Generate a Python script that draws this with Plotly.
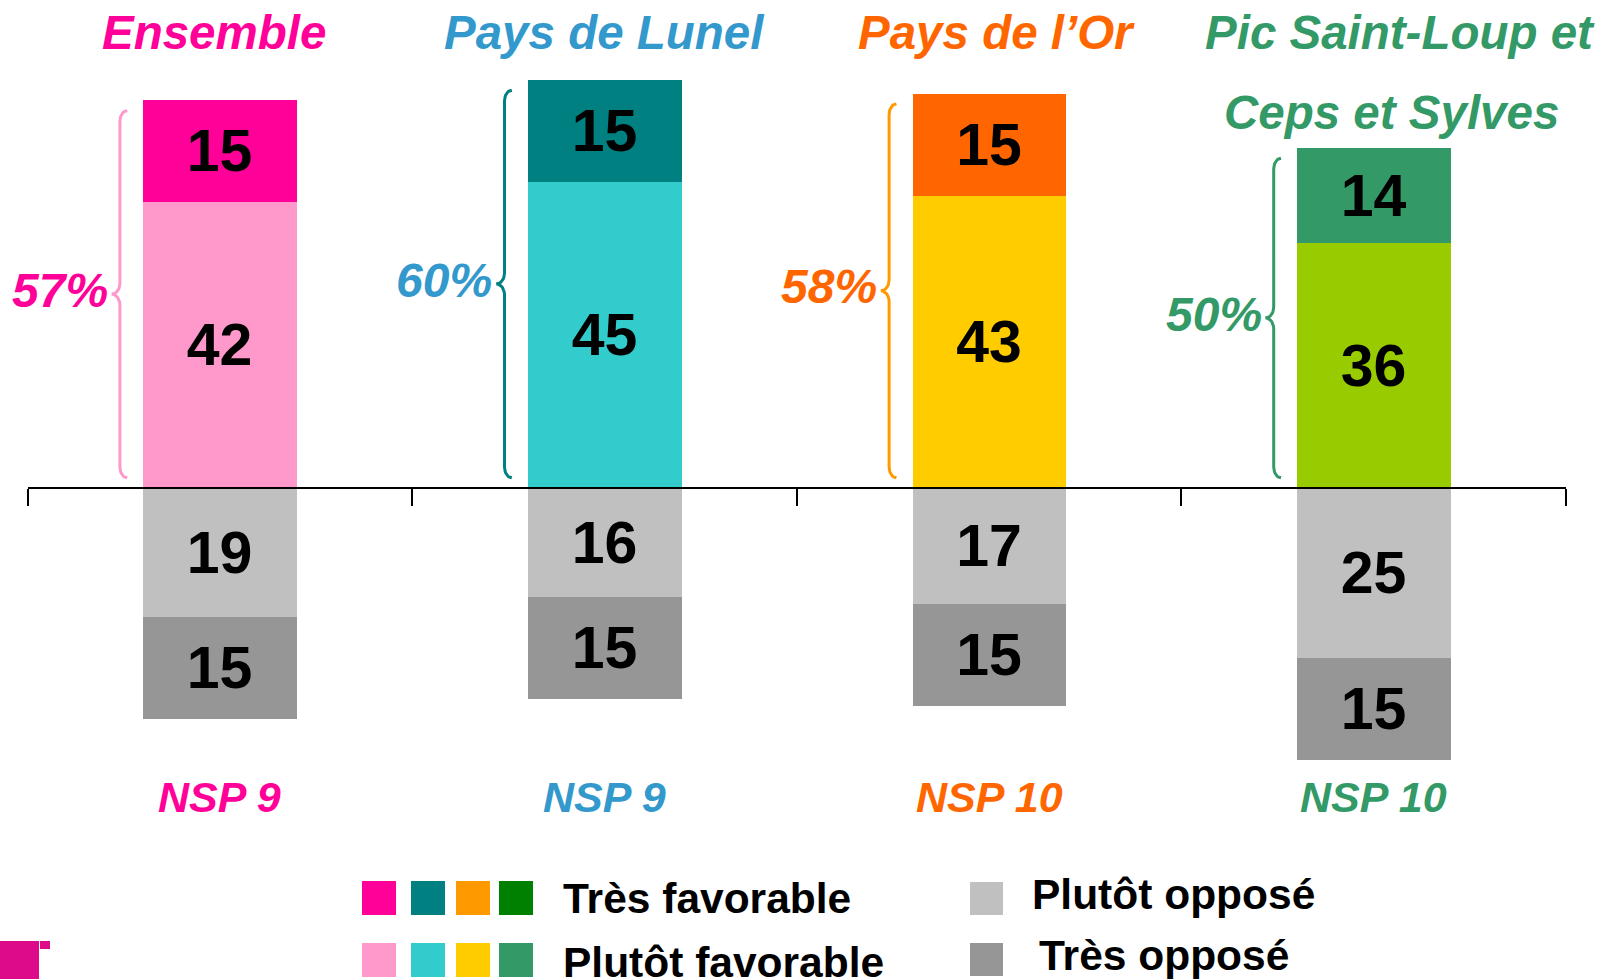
import numpy as np
import plotly.graph_objects as go

# Données
territoires = ["Ensemble", "Pays de Lunel", "Pays de l’Or", "Pic Saint-Loup et"]
sous_titre = ["", "", "", "Ceps et Sylves"]
tres_favorable = [15, 15, 15, 14]
plutot_favorable = [42, 45, 43, 36]
plutot_oppose = [19, 16, 17, 25]
tres_oppose = [15, 15, 15, 15]
nsp = [9, 9, 10, 10]

# Couleurs
col_tres_fav = ["#FF0099", "#008080", "#FF6600", "#339966"]
col_plutot_fav = ["#FF99CC", "#33CCCC", "#FFCC00", "#99CC00"]
col_titre = ["#FF0099", "#3399CC", "#FF6600", "#339966"]
col_accolade = ["#FF99CC", "#008080", "#FF9900", "#339966"]
legende_tres = ["#FF0099", "#008080", "#FF9900", "#008000"]
legende_plutot = ["#FF99CC", "#33CCCC", "#FFCC00", "#339966"]
GRIS_CLAIR = "#C0C0C0"
GRIS_FONCE = "#969696"

W, H = 1605, 979
FONT = "Liberation Sans, Arial, sans-serif"
Y_RANGE = [-45.74, 60.15]
Y_DOMAIN = [(H - 799) / H, (H - 79) / H]
X_DOMAIN = [27.6 / W, 1566 / W]
LARGEUR = 0.4
# petits décalages horizontaux des titres (px)
DECAL_TITRE = [-6, 0, 7, 26]
DECAL_SOUS_TITRE = [0, 0, 0, 18]

x = list(range(len(territoires)))
total_fav = [a + b for a, b in zip(tres_favorable, plutot_favorable)]

fig = go.Figure()

series = [
    (plutot_favorable, col_plutot_fav),
    (tres_favorable, col_tres_fav),
    ([-v for v in plutot_oppose], [GRIS_CLAIR] * 4),
    ([-v for v in tres_oppose], [GRIS_FONCE] * 4),
]
for vals, cols in series:
    fig.add_trace(go.Bar(
        x=x, y=vals, width=LARGEUR,
        marker=dict(color=cols, line=dict(width=0)),
        text=[str(abs(v)) for v in vals],
        textposition="inside", insidetextanchor="middle", textangle=0,
        constraintext="none",
        textfont=dict(family=FONT, size=59, color="#000000", weight="bold"),
        showlegend=False, hoverinfo="skip",
    ))

# Accolades
ry = 1.6
for i, tot in enumerate(total_fav):
    gauche = i - LARGEUR / 2
    xv, xh, xt = gauche - 0.06, gauche - 0.041, gauche - 0.081
    haut, bas, mil = tot - 1.5, 1.5, tot / 2
    t = np.linspace(0, np.pi / 2, 12)
    xs = np.concatenate([
        xh - (xh - xv) * np.sin(t),
        xt + (xv - xt) * np.cos(t),
        xt + (xv - xt) * np.sin(t),
        xh - (xh - xv) * np.cos(t),
    ])
    ys = np.concatenate([
        haut - ry + ry * np.cos(t),
        mil + ry - ry * np.sin(t),
        mil - ry + ry * np.cos(t),
        bas + ry - ry * np.sin(t),
    ])
    fig.add_trace(go.Scatter(x=xs, y=ys, mode="lines",
                             line=dict(color=col_accolade[i], width=3),
                             showlegend=False, hoverinfo="skip"))

    fig.add_annotation(x=xt, y=mil, xref="x", yref="y", text=f"<b><i>{tot}%</i></b>",
                       xanchor="right", yanchor="middle", xshift=-2, yshift=4, showarrow=False,
                       font=dict(family=FONT, size=48, color=col_titre[i]))
    fig.add_annotation(x=i, y=1 - 33 / H, xref="x", yref="paper", xshift=DECAL_TITRE[i],
                       text=f"<b><i>{territoires[i]}</i></b>", showarrow=False,
                       xanchor="center", yanchor="middle",
                       font=dict(family=FONT, size=47.5, color=col_titre[i]))
    if sous_titre[i]:
        fig.add_annotation(x=i, y=1 - 112 / H, xref="x", yref="paper", xshift=DECAL_SOUS_TITRE[i],
                           text=f"<b><i>{sous_titre[i]}</i></b>", showarrow=False,
                           xanchor="center", yanchor="middle",
                           font=dict(family=FONT, size=47.5, color=col_titre[i]))
    fig.add_annotation(x=i, y=1 - 797 / H, xref="x", yref="paper",
                       text=f"<b><i>NSP {nsp[i]}</i></b>", showarrow=False,
                       xanchor="center", yanchor="middle",
                       font=dict(family=FONT, size=43, color=col_titre[i]))

# Légende dessinée à la main
def carre(x0, y0, couleur, taille=34):
    fig.add_shape(type="rect", xref="paper", yref="paper",
                  x0=x0 / W, x1=(x0 + taille) / W, y0=1 - y0 / H, y1=1 - (y0 + taille) / H,
                  fillcolor=couleur, line=dict(width=0))

for k, (c1, c2) in enumerate(zip(legende_tres, legende_plutot)):
    x0 = [362, 411, 456, 499][k]
    carre(x0, 881, c1)
    carre(x0, 943, c2)
carre(970, 882, GRIS_CLAIR, 33)
carre(970, 943, GRIS_FONCE, 33)

legendes = [("Très favorable", 561, 898), ("Plutôt favorable", 561, 962),
            ("Plutôt opposé", 1030, 894), ("Très opposé", 1037, 955)]
for txt, px, py in legendes:
    fig.add_annotation(x=px / W, y=1 - py / H, xref="paper", yref="paper",
                       text=f"<b>{txt}</b>", showarrow=False, xanchor="left", yanchor="middle",
                       font=dict(family=FONT, size=42.5, color="#000000"))

# Petit logo en bas à gauche
fig.add_shape(type="rect", xref="paper", yref="paper", x0=0, x1=39 / W,
              y0=1 - 941 / H, y1=0, fillcolor="#DD0A8A", line=dict(width=0))
fig.add_shape(type="rect", xref="paper", yref="paper", x0=40 / W, x1=50 / W,
              y0=1 - 941 / H, y1=1 - 949 / H, fillcolor="#DD0A8A", line=dict(width=0))

zero_paper = Y_DOMAIN[0] + (0 - Y_RANGE[0]) / (Y_RANGE[1] - Y_RANGE[0]) * (Y_DOMAIN[1] - Y_DOMAIN[0])

fig.update_layout(
    width=W, height=H,
    barmode="relative", bargap=0,
    plot_bgcolor="#ffffff", paper_bgcolor="#ffffff",
    margin=dict(l=0, r=0, t=0, b=0),
    showlegend=False,
    xaxis=dict(domain=X_DOMAIN, range=[-0.5, 3.5], anchor="free", position=zero_paper,
               tickvals=[-0.5, 0.5, 1.5, 2.5, 3.5], ticks="outside", ticklen=17,
               tickwidth=2, tickcolor="#000000", showticklabels=False,
               showline=True, linecolor="#000000", linewidth=2,
               showgrid=False, zeroline=False),
    yaxis=dict(domain=Y_DOMAIN, range=Y_RANGE, visible=False, showgrid=False, zeroline=False),
)

fig.write_html("out.html", config={"displayModeBar": False},
               post_script="document.body.style.margin='0';")
